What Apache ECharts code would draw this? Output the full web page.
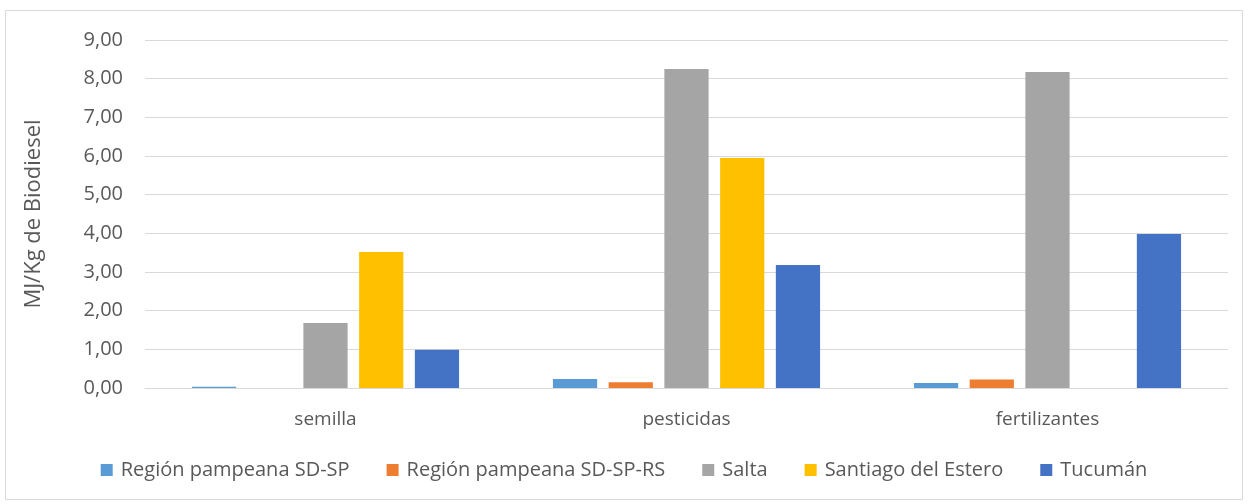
<!DOCTYPE html>
<html lang="es">
<head>
    <meta charset="UTF-8">
    <title>MJ/Kg de Biodiesel</title>
    <style>
        body { margin: 0; background: #fff; }
    </style>
</head>
<body>
<script src="https://cdn.jsdelivr.net/npm/echarts@6/dist/echarts.min.js"></script>
<div id="main" style="width:1248px;height:504px;"></div>

<script type="text/javascript">
    var categories = ['semilla', 'pesticidas', 'fertilizantes'];
    var seriesNames = ['Región pampeana SD-SP', 'Región pampeana SD-SP-RS', 'Salta', 'Santiago del Estero', 'Tucumán'];
    var pampeanaSDSP = [0.03, 0.23, 0.13];
    var pampeanaSDSPRS = [0, 0.15, 0.22];
    var salta = [1.68, 8.25, 8.17];
    var santiago = [3.52, 5.95, 0];
    var tucuman = [0.99, 3.18, 3.98];
    var yTicks = [0, 9, 1];

    var values = [pampeanaSDSP, pampeanaSDSPRS, salta, santiago, tucuman];
    var colors = ['#5b9bd5', '#ed7d31', '#a5a5a5', '#ffc000', '#4472c4'];
    var font = '"Open Sans", "Noto Sans", sans-serif';

    var myChart = echarts.init(document.getElementById('main'));

    var seriesArr = [];
    seriesNames.forEach(function (name, i) {
        seriesArr.push({
            name: name,
            type: 'bar',
            data: values[i],
            barGap: '26%',
            barCategoryGap: '26%',
            itemStyle: { color: colors[i] }
        });
    });

    var option = {
        backgroundColor: '#fff',
        animation: false,
        textStyle: { fontFamily: font },
        graphic: [{
            type: 'rect',
            shape: { x: 5.5, y: 10.5, width: 1237, height: 489 },
            style: { fill: 'none', stroke: '#d9d9d9', lineWidth: 1 },
            silent: true
        }],
        grid: { left: 145, right: 20, top: 40, bottom: 116 },
        legend: {
            data: seriesNames,
            bottom: 19,
            left: 'center',
            itemWidth: 12,
            itemHeight: 12,
            itemGap: 37,
            icon: 'rect',
            textStyle: { fontSize: 20, color: '#595959', fontFamily: font, padding: [0, 0, 0, 3] }
        },
        xAxis: {
            type: 'category',
            data: categories,
            axisLine: { lineStyle: { color: '#d9d9d9', width: 1 } },
            axisTick: { show: false },
            axisLabel: { fontSize: 19, color: '#595959', margin: 22 }
        },
        yAxis: {
            type: 'value',
            min: yTicks[0],
            max: yTicks[1],
            interval: yTicks[2],
            name: 'MJ/Kg de Biodiesel',
            nameLocation: 'middle',
            nameGap: 100,
            nameTextStyle: { fontSize: 22, color: '#595959' },
            axisLine: { show: false },
            axisTick: { show: false },
            splitLine: { lineStyle: { color: '#d9d9d9', width: 1 } },
            axisLabel: {
                fontSize: 20,
                color: '#595959',
                margin: 22,
                formatter: function (v) { return v.toFixed(2).replace('.', ','); }
            }
        },
        series: seriesArr
    };
    myChart.setOption(option);
</script>
</body>
</html>
